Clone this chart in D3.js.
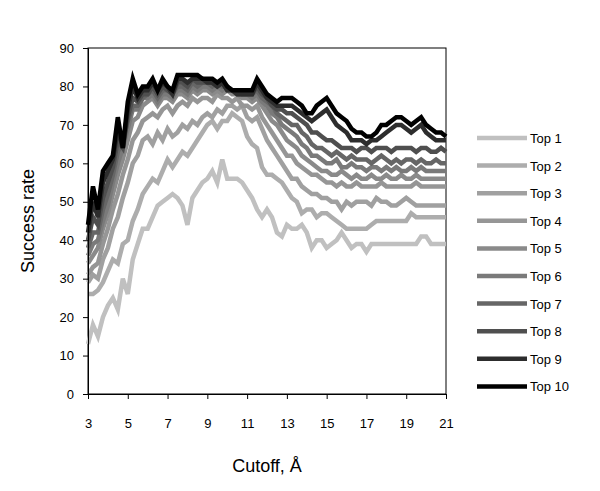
<!DOCTYPE html>
<html>
<head>
<meta charset="utf-8">
<script src="https://cdn.jsdelivr.net/npm/d3@7"></script>
<style>
  body { margin: 0; background: #fff; }
  svg { font-family: Arial, "Liberation Sans", sans-serif; }
</style>
</head>
<body>
<div id="chart"></div>
<script>
// cutoff grid, 3 to 21 A in steps of 0.25
var cutoffs = d3.range(3, 21.001, 0.25);

var seriesNames = ['Top 1', 'Top 2', 'Top 3', 'Top 4', 'Top 5', 'Top 6', 'Top 7', 'Top 8', 'Top 9', 'Top 10'];
var seriesColors = ['#c0c0c0', '#adadad', '#a0a0a0', '#969696', '#8a8a8a', '#7a7a7a', '#666666', '#4f4f4f', '#2d2d2d', '#000000'];

var top1 = [13,18,15,20,23,25,22,30,26,35,39,43,43,46,49,50,51,52,51,49,44,51,53,55,56,58,55,61,56,56,56,55,53,51,48,46,48,46,42,41,44,43,43,44,42,38,40,40,38,39,40,42,40,38,39,39,37,39,39,39,39,39,39,39,39,39,39,41,41,39,39,39,39];
var top2 = [26,26,27,29,32,35,34,39,40,45,48,52,54,56,55,58,61,59,61,63,62,64,66,68,70,71,69,71,71,73,72,71,67,65,64,59,57,57,56,55,53,51,50,47,48,48,46,47,47,46,45,44,43,43,43,43,43,44,45,45,45,45,45,45,45,47,46,46,46,46,46,46,46];
var top3 = [29,31,30,35,38,43,46,51,55,60,62,66,67,65,68,66,69,67,68,70,69,71,70,72,73,72,74,73,75,75,74,75,72,71,72,69,66,64,62,60,58,56,56,54,53,52,52,51,51,50,50,48,50,49,50,50,50,49,51,50,50,49,49,50,51,50,49,49,49,49,49,49,49];
var top4 = [31,33,34,39,43,48,52,57,61,66,68,71,72,73,72,74,75,73,75,76,75,77,76,77,77,76,78,77,77,76,77,75,75,74,75,72,70,68,66,64,62,62,60,59,58,57,57,56,55,55,54,55,54,54,55,54,54,54,54,55,54,54,54,54,54,54,55,54,54,54,54,54,54];
var top5 = [34,36,38,43,47,52,57,61,66,71,72,75,76,77,75,77,77,76,78,78,77,79,78,79,79,78,79,78,79,78,78,77,77,76,77,75,73,71,70,68,66,65,64,62,61,60,59,58,58,57,57,58,57,56,57,56,56,57,56,56,57,56,56,57,56,56,57,56,56,56,56,56,56];
var top6 = [36,39,40,45,49,55,60,64,69,74,74,77,77,78,76,78,78,77,79,79,78,80,79,80,80,79,80,79,80,79,79,78,78,77,78,76,75,73,72,70,69,68,67,65,64,62,62,61,60,60,61,59,59,60,59,59,58,59,59,58,59,58,59,58,58,59,58,59,58,58,58,58,58];
var top7 = [38,42,42,48,52,57,63,66,71,75,75,77,78,79,77,79,79,78,80,80,79,81,80,81,81,80,81,80,80,79,79,78,78,78,79,77,76,75,73,72,71,70,70,68,67,65,64,64,63,62,63,62,61,62,61,61,61,60,61,62,61,60,61,60,61,61,60,61,60,60,61,60,60];
var top8 = [40,46,44,51,55,59,66,64,72,77,76,78,78,80,78,80,79,78,81,81,80,82,81,81,81,81,80,81,79,79,78,78,78,78,80,78,77,75,74,74,73,73,72,71,70,68,68,67,66,66,65,64,64,64,63,64,64,63,64,64,64,63,64,64,64,64,63,64,64,63,63,64,63];
var top9 = [42,50,46,55,58,61,69,64,74,80,77,79,79,81,79,81,80,78,82,82,81,82,82,82,81,81,80,81,79,79,78,78,78,78,81,79,77,76,75,75,75,75,74,73,72,71,72,73,74,72,70,69,68,66,66,66,65,66,66,67,68,69,70,70,69,68,69,70,68,67,66,66,66];
var top10 = [44,54,48,58,60,62,72,64,76,82,78,80,80,82,79,82,80,79,83,83,83,83,83,82,82,82,81,82,80,79,79,79,79,79,82,80,78,77,76,77,77,77,76,75,73,73,75,76,77,75,73,72,71,69,68,68,67,67,68,70,70,71,72,72,71,70,71,72,70,69,68,68,67];

var allSeries = [top1, top2, top3, top4, top5, top6, top7, top8, top9, top10];

var xTicks = [3, 5, 7, 9, 11, 13, 15, 17, 19, 21];
var yTicks = [0, 10, 20, 30, 40, 50, 60, 70, 80, 90];

var W = 600, H = 491;
var plot = { left: 88, right: 446, top: 48, bottom: 394 };

var svg = d3.select('#chart').append('svg')
  .attr('width', W).attr('height', H);

var x = d3.scaleLinear().domain([3, 21]).range([plot.left, plot.right]);
var y = d3.scaleLinear().domain([0, 90]).range([plot.bottom, plot.top]);

// plot frame
svg.append('rect')
  .attr('x', plot.left).attr('y', plot.top)
  .attr('width', plot.right - plot.left).attr('height', plot.bottom - plot.top)
  .attr('fill', 'none').attr('stroke', '#000').attr('stroke-width', 1);

var line = d3.line()
  .x(function (d, i) { return x(cutoffs[i]); })
  .y(function (d) { return y(d); });

var linesG = svg.append('g');
allSeries.forEach(function (vals, k) {
  linesG.append('path')
    .datum(vals)
    .attr('d', line)
    .attr('fill', 'none')
    .attr('stroke', seriesColors[k])
    .attr('stroke-width', 4.5)
    .attr('stroke-linejoin', 'miter');
});

// axes
var xAxis = svg.append('g')
  .attr('transform', 'translate(0,' + plot.bottom + ')')
  .call(d3.axisBottom(x).tickValues(xTicks).tickSize(5).tickPadding(20).tickFormat(d3.format('d')));
var yAxis = svg.append('g')
  .attr('transform', 'translate(' + plot.left + ',0)')
  .call(d3.axisLeft(y).tickValues(yTicks).tickSize(5).tickPadding(9).tickFormat(d3.format('d')));

[xAxis, yAxis].forEach(function (g) {
  g.selectAll('.domain').attr('stroke', '#000');
  g.selectAll('.tick line').attr('stroke', '#000');
  g.selectAll('text').attr('font-size', 13).attr('fill', '#000')
    .attr('font-family', 'Arial, "Liberation Sans", sans-serif');
});

// axis titles
svg.append('text')
  .attr('x', (plot.left + plot.right) / 2).attr('y', 472)
  .attr('text-anchor', 'middle').attr('font-size', 18)
  .text('Cutoff, \u00C5');
svg.append('text')
  .attr('transform', 'translate(34,' + (plot.top + plot.bottom) / 2 + ') rotate(-90)')
  .attr('text-anchor', 'middle').attr('font-size', 18)
  .text('Success rate');

// legend
var legend = svg.append('g');
seriesNames.forEach(function (name, k) {
  var ly = 138 + k * 27.6;
  legend.append('line')
    .attr('x1', 477).attr('x2', 527).attr('y1', ly).attr('y2', ly)
    .attr('stroke', seriesColors[k]).attr('stroke-width', 4.5);
  legend.append('text')
    .attr('x', 530).attr('y', ly + 5)
    .attr('font-size', 13)
    .text(name);
});
</script>
</body>
</html>
